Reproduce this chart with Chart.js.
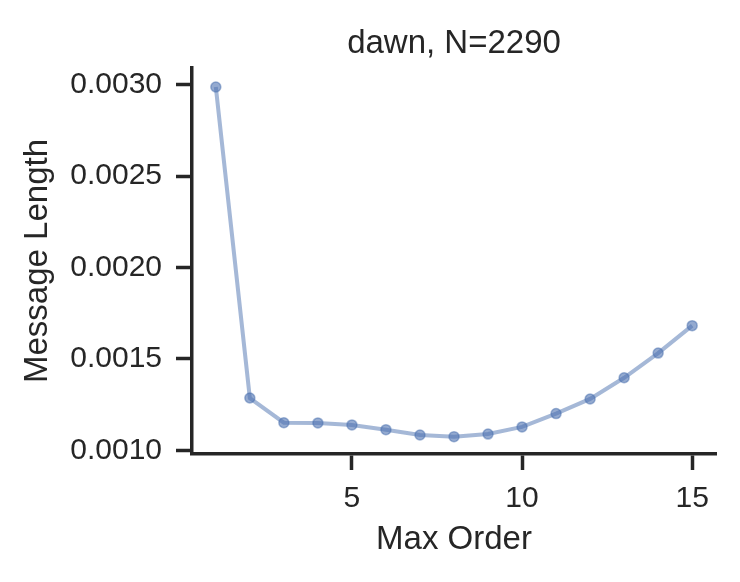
<!DOCTYPE html>
<html>
<head>
<meta charset="utf-8">
<script src="https://cdn.jsdelivr.net/npm/chart.js@4/dist/chart.umd.min.js"></script>
<style>
  html, body { margin: 0; padding: 0; background: #ffffff; }
  #wrap { width: 740px; height: 582px; position: relative; }
</style>
</head>
<body>
<div id="wrap"><canvas id="c" width="740" height="582"></canvas></div>
<script>
// ---- data ----
const maxOrder = [1, 2, 3, 4, 5, 6, 7, 8, 9, 10, 11, 12, 13, 14, 15];
const messageLength = [0.002987, 0.001286, 0.001151, 0.001150, 0.001139, 0.001113, 0.001084, 0.001075, 0.001089, 0.001128, 0.001201, 0.001281, 0.001397, 0.001532, 0.001682];
const xTickValues = [5, 10, 15];
const yTickValues = [0.0010, 0.0015, 0.0020, 0.0025, 0.0030];
const titleText = 'dawn, N=2290';
const xLabel = 'Max Order';
const yLabel = 'Message Length';

const ink = '#262626';
const fontFamily = '"Liberation Sans", Arial, sans-serif';

const points = maxOrder.map((x, i) => ({ x: x, y: messageLength[i] }));

// title centred over the plotting area (as matplotlib does)
const axesTitle = {
  id: 'axesTitle',
  afterDraw(chart) {
    const ctx = chart.ctx;
    const a = chart.chartArea;
    ctx.save();
    ctx.fillStyle = ink;
    ctx.font = '33px ' + fontFamily;
    ctx.textAlign = 'center';
    ctx.textBaseline = 'alphabetic';
    ctx.fillText(titleText, (a.left + a.right) / 2, 53);
    ctx.restore();
  }
};

new Chart(document.getElementById('c'), {
  type: 'line',
  data: {
    datasets: [{
      data: points,
      borderColor: 'rgba(76,114,176,0.5)',
      borderWidth: 4,
      pointRadius: 5,
      pointBackgroundColor: 'rgba(76,114,176,0.6)',
      pointBorderColor: 'rgba(76,114,176,0.5)',
      pointBorderWidth: 1.5,
      tension: 0,
      fill: false
    }]
  },
  plugins: [axesTitle],
  options: {
    responsive: false,
    animation: false,
    devicePixelRatio: 1,
    layout: { padding: { left: 0, right: 24, top: 68, bottom: 22 } },
    plugins: {
      legend: { display: false },
      tooltip: { enabled: false },
      title: { display: false }
    },
    scales: {
      x: {
        type: 'linear',
        min: 0.3,
        max: 15.7,
        afterBuildTicks: s => { s.ticks = xTickValues.map(v => ({ value: v })); },
        afterFit: s => { s.height = 106; },
        ticks: {
          color: ink,
          font: { family: fontFamily, size: 30 },
          padding: 11,
          maxRotation: 0,
          callback: v => String(v)
        },
        grid: {
          display: true,
          drawOnChartArea: false,
          drawTicks: true,
          tickLength: 16,
          tickWidth: 3.5,
          tickColor: ink
        },
        border: { display: true, color: ink, width: 3.5 },
        title: {
          display: true,
          text: xLabel,
          color: ink,
          font: { family: fontFamily, size: 33 },
          padding: { top: 4, bottom: 0 }
        }
      },
      y: {
        type: 'linear',
        min: 0.00098,
        max: 0.003091,
        afterBuildTicks: s => { s.ticks = yTickValues.map(v => ({ value: v })); },
        afterFit: s => { s.width = 192; },
        ticks: {
          color: ink,
          font: { family: fontFamily, size: 30 },
          padding: 14,
          callback: v => Number(v).toFixed(4)
        },
        grid: {
          display: true,
          drawOnChartArea: false,
          drawTicks: true,
          tickLength: 16,
          tickWidth: 3.5,
          tickColor: ink
        },
        border: { display: true, color: ink, width: 3.5 },
        title: {
          display: true,
          text: yLabel,
          color: ink,
          font: { family: fontFamily, size: 33 },
          padding: { top: 18, bottom: 0 }
        }
      }
    }
  }
});
</script>
</body>
</html>
